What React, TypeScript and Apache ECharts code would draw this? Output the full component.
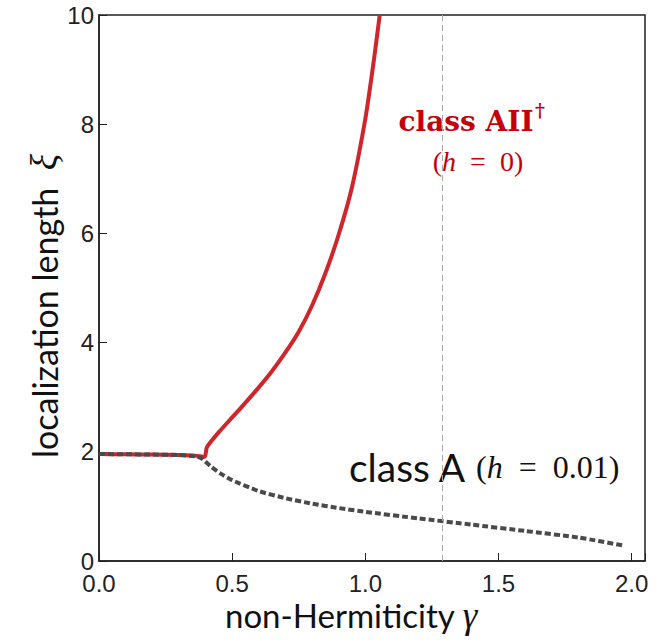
import React, { useEffect, useRef } from "react";
import * as echarts from "echarts";

// class AII† (h = 0): localization length vs non-Hermiticity
const gammaAII = [0, 0.1, 0.2, 0.3, 0.36, 0.397, 0.404, 0.416, 0.45, 0.5, 0.55, 0.6, 0.65, 0.7, 0.75, 0.8, 0.85, 0.9, 0.95, 1.0, 1.03, 1.054];
const xiAII = [1.96, 1.955, 1.95, 1.94, 1.93, 1.91, 2.07, 2.16, 2.36, 2.63, 2.9, 3.18, 3.48, 3.82, 4.2, 4.68, 5.27, 5.98, 6.85, 8.1, 9.1, 10.0];

// class A (h = 0.01)
const gammaA = [0, 0.1, 0.2, 0.3, 0.36, 0.385, 0.42, 0.46, 0.5, 0.6, 0.7, 0.8, 0.9, 1.0, 1.2, 1.4, 1.6, 1.8, 1.972];
const xiA = [1.96, 1.955, 1.95, 1.94, 1.92, 1.88, 1.73, 1.59, 1.48, 1.28, 1.15, 1.05, 0.97, 0.9, 0.78, 0.665, 0.55, 0.43, 0.28];

// reference position of the vertical guide
const gammaMarker = 1.295;

const xTicks = [0, 0.5, 1.0, 1.5, 2.0];
const yTicks = [0, 2, 4, 6, 8, 10];

const RED = "#cf252c";
const RED_TEXT = "#c4000b";
const SANS = "Lato";
const SERIF = "Liberation Serif";

export default function App() {
  const ref = useRef<HTMLDivElement>(null);

  useEffect(() => {
    if (!ref.current) return;
    const chart = echarts.init(ref.current, undefined, { renderer: "svg" });
    const near = (v: number, list: number[]) => list.some((t) => Math.abs(t - v) < 1e-6);

    chart.setOption({
      animation: false,
      grid: {
        left: 99,
        top: 15,
        right: 19,
        bottom: 80,
        show: true,
        borderColor: "#222",
        borderWidth: 1.5,
      },
      xAxis: {
        type: "value",
        min: 0,
        max: 2.05,
        interval: 0.5,
        splitLine: { show: false },
        axisLine: { lineStyle: { color: "#222", width: 1.5 } },
        axisTick: { inside: true, length: 8, lineStyle: { color: "#222", width: 1 } },
        axisLabel: {
          margin: 10,
          fontFamily: "Liberation Sans",
          fontSize: 24,
          color: "#222",
          formatter: (v: number) => (near(v, xTicks) ? v.toFixed(1) : ""),
        },
      },
      yAxis: {
        type: "value",
        min: 0,
        max: 10,
        interval: 2,
        splitLine: { show: false },
        axisLine: { lineStyle: { color: "#222", width: 1.5 } },
        axisTick: { inside: true, length: 8, lineStyle: { color: "#222", width: 1 } },
        axisLabel: {
          margin: 5,
          fontFamily: "Liberation Sans",
          fontSize: 24,
          color: "#222",
          formatter: (v: number) => (near(v, yTicks) ? String(v) : ""),
        },
      },
      series: [
        {
          type: "line",
          data: gammaAII.map((g, i) => [g, xiAII[i]]),
          showSymbol: false,
          smooth: 0.2,
          lineStyle: { color: RED, width: 4 },
          markLine: {
            silent: true,
            symbol: "none",
            label: { show: false },
            lineStyle: { color: "#a8a8a8", type: [6, 4], width: 1 },
            data: [{ xAxis: gammaMarker }],
          },
          z: 2,
        },
        {
          type: "line",
          data: gammaA.map((g, i) => [g, xiA[i]]),
          showSymbol: false,
          smooth: 0.2,
          lineStyle: { color: "#4a4a4a", width: 4, type: [6, 3], cap: "butt" },
          z: 3,
        },
      ],
      graphic: [
        {
          type: "text",
          x: 466,
          y: 121,
          style: {
            text: "class AII",
            fontFamily: "DejaVu Serif",
            fontWeight: "bold",
            fontSize: 28,
            fill: RED_TEXT,
            textAlign: "center",
            textVerticalAlign: "middle",
          },
        },
        {
          type: "text",
          x: 540,
          y: 110,
          style: {
            text: "†",
            fontFamily: "DejaVu Serif",
            fontWeight: "bold",
            fontSize: 19,
            fill: RED_TEXT,
            textAlign: "center",
            textVerticalAlign: "middle",
          },
        },
        {
          type: "text",
          x: 478,
          y: 161,
          style: {
            text: "{p|(}{i|h}{p|  =  0)}",
            textAlign: "center",
            textVerticalAlign: "middle",
            rich: {
              p: { fontFamily: SERIF, fontSize: 28, fill: RED_TEXT },
              i: { fontFamily: SERIF, fontStyle: "italic", fontSize: 28, fill: RED_TEXT },
            },
          },
        },
        {
          type: "text",
          x: 349,
          y: 467,
          style: {
            text: "class A",
            fontFamily: SANS,
            fontSize: 39,
            fill: "#111",
            textAlign: "left",
            textVerticalAlign: "middle",
          },
        },
        {
          type: "text",
          x: 476,
          y: 467,
          style: {
            text: "{p|(}{i|h}{p|  =  0.01)}",
            textAlign: "left",
            textVerticalAlign: "middle",
            rich: {
              p: { fontFamily: SERIF, fontSize: 32, fill: "#111" },
              i: { fontFamily: SERIF, fontStyle: "italic", fontSize: 32, fill: "#111" },
            },
          },
        },
        {
          type: "text",
          x: 351,
          y: 615,
          style: {
            text: "{s|non-Hermiticity }{m|γ}",
            textAlign: "center",
            textVerticalAlign: "middle",
            rich: {
              s: { fontFamily: SANS, fontSize: 33, lineHeight: 30, fill: "#111" },
              m: { fontFamily: SERIF, fontStyle: "italic", fontSize: 37, lineHeight: 30, fill: "#111" },
            },
          },
        },
        {
          type: "text",
          x: 44,
          y: 306,
          rotation: Math.PI / 2,
          style: {
            text: "{s|localization length  }{m|ξ}",
            textAlign: "center",
            textVerticalAlign: "middle",
            rich: {
              s: { fontFamily: SANS, fontSize: 34, fill: "#111" },
              m: { fontFamily: SERIF, fontStyle: "italic", fontSize: 38, fill: "#111" },
            },
          },
        },
      ],
    });

    return () => chart.dispose();
  }, []);

  return <div ref={ref} style={{ position: "absolute", left: 0, top: 0, width: 664, height: 641 }} />;
}
